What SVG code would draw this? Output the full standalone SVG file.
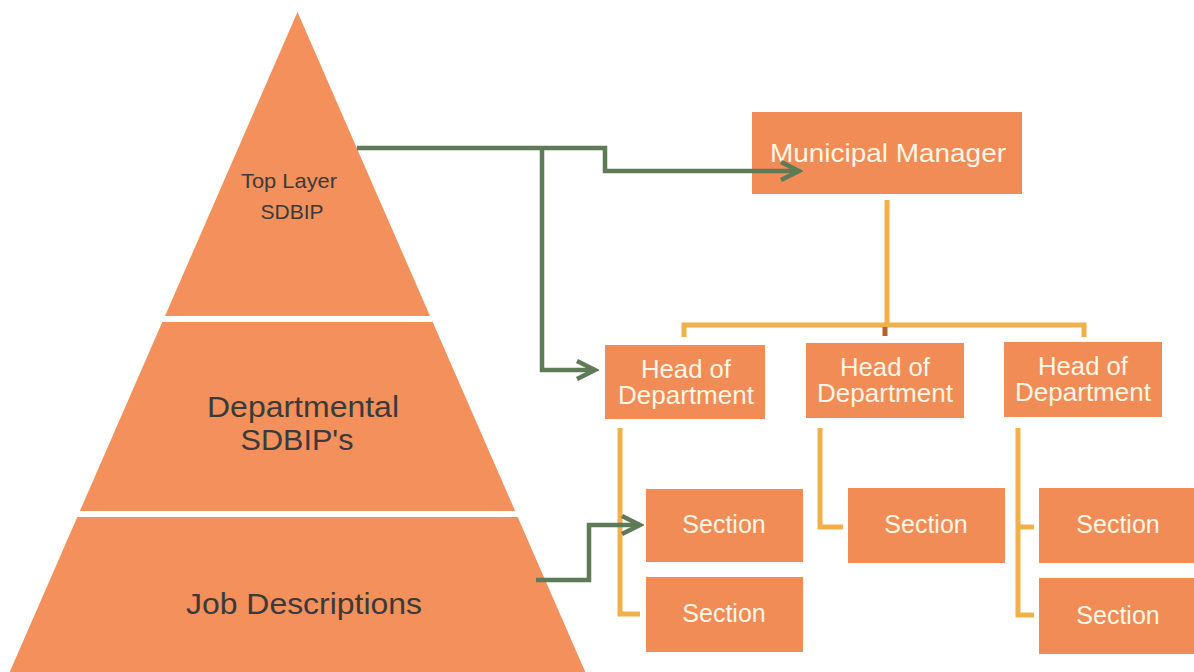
<svg xmlns="http://www.w3.org/2000/svg" width="1194" height="672" viewBox="0 0 1194 672">
<style>
.pyr{fill:#F3905C}
.box{fill:#F18C56}
.ptxt{font-family:"Liberation Sans",Arial,sans-serif;fill:#3a3a3a;text-anchor:middle}
.btxt{font-family:"Liberation Sans",Arial,sans-serif;fill:#FFF6E6;text-anchor:middle}
.green{fill:none;stroke:#5F7A57;stroke-width:4.5;stroke-linejoin:miter}
.yel{fill:none;stroke:#F1B04A;stroke-width:5}
</style>
<defs>
<marker id="chev" markerUnits="userSpaceOnUse" markerWidth="26" markerHeight="26" viewBox="0 0 26 26" refX="22" refY="13" orient="auto">
<path d="M4,4 L22,13 L4,22" fill="none" stroke="#5F7A57" stroke-width="4.5" stroke-linejoin="miter"/>
</marker>
</defs>
<rect width="1194" height="672" fill="#ffffff"/>

<g id="pyramid-top">
<polygon class="pyr" points="297.5,12 165,316 430,316"/>
<text class="ptxt" x="289" y="188" font-size="21" textLength="96" lengthAdjust="spacingAndGlyphs">Top Layer</text>
<text class="ptxt" x="292" y="219" font-size="21">SDBIP</text>
</g>
<g id="pyramid-departmental">
<polygon class="pyr" points="162.3,322 432.7,322 515.1,511 79.9,511"/>
<text class="ptxt" x="303" y="417" font-size="29" textLength="192" lengthAdjust="spacingAndGlyphs">Departmental</text>
<text class="ptxt" x="297" y="450" font-size="29" textLength="113" lengthAdjust="spacingAndGlyphs">SDBIP's</text>
</g>
<g id="pyramid-jobs">
<polygon class="pyr" points="77.3,517 517.7,517 585.3,672 9.7,672"/>
<text class="ptxt" x="304" y="614" font-size="29" textLength="236" lengthAdjust="spacingAndGlyphs">Job Descriptions</text>
</g>

<g id="municipal-manager">
<rect class="box" x="752" y="112" width="270" height="82"/>
<text class="btxt" x="888" y="162" font-size="26" textLength="236" lengthAdjust="spacingAndGlyphs">Municipal Manager</text>
</g>
<g id="hod-1">
<rect class="box" x="605" y="345" width="160" height="74"/>
<text class="btxt" x="686" y="378" font-size="25" textLength="90" lengthAdjust="spacingAndGlyphs">Head of</text>
<text class="btxt" x="686" y="404" font-size="25" textLength="136" lengthAdjust="spacingAndGlyphs">Department</text>
</g>
<g id="hod-2">
<rect class="box" x="806" y="343" width="158" height="75"/>
<text class="btxt" x="885" y="376" font-size="25" textLength="90" lengthAdjust="spacingAndGlyphs">Head of</text>
<text class="btxt" x="885" y="402" font-size="25" textLength="136" lengthAdjust="spacingAndGlyphs">Department</text>
</g>
<g id="hod-3">
<rect class="box" x="1004" y="342" width="158" height="75"/>
<text class="btxt" x="1083" y="375" font-size="25" textLength="90" lengthAdjust="spacingAndGlyphs">Head of</text>
<text class="btxt" x="1083" y="401" font-size="25" textLength="136" lengthAdjust="spacingAndGlyphs">Department</text>
</g>
<g id="section-1a">
<rect class="box" x="646" y="489" width="157" height="73"/>
<text class="btxt" x="724" y="533" font-size="25">Section</text>
</g>
<g id="section-1b">
<rect class="box" x="646" y="577" width="157" height="75"/>
<text class="btxt" x="724" y="622" font-size="25">Section</text>
</g>
<g id="section-2">
<rect class="box" x="848" y="488" width="157" height="75"/>
<text class="btxt" x="926" y="533" font-size="25">Section</text>
</g>
<g id="section-3a">
<rect class="box" x="1039" y="488" width="160" height="75"/>
<text class="btxt" x="1118" y="533" font-size="25">Section</text>
</g>
<g id="section-3b">
<rect class="box" x="1039" y="578" width="160" height="76"/>
<text class="btxt" x="1118" y="624" font-size="25">Section</text>
</g>

<g id="connectors">
<polyline class="yel" points="887,200 887,325"/>
<polyline class="yel" points="684,337 684,325 1084,325 1084,337"/>
<line x1="885" y1="327" x2="885" y2="336" stroke="#B5622F" stroke-width="5"/>
<polyline class="yel" points="620,428 620,614 640,614"/>
<polyline class="yel" points="820,428 820,527 843,527"/>
<polyline class="yel" points="1018,428 1018,615 1034,615"/>
<line class="yel" x1="1018" y1="527" x2="1034" y2="527"/>
<polyline class="green" points="357,148 605,148 605,171 799,171" marker-end="url(#chev)"/>
<polyline class="green" points="542,148 542,370 595,370" marker-end="url(#chev)"/>
<polyline class="green" points="536,580 589,580 589,525 640,525" marker-end="url(#chev)"/>
</g>
</svg>
